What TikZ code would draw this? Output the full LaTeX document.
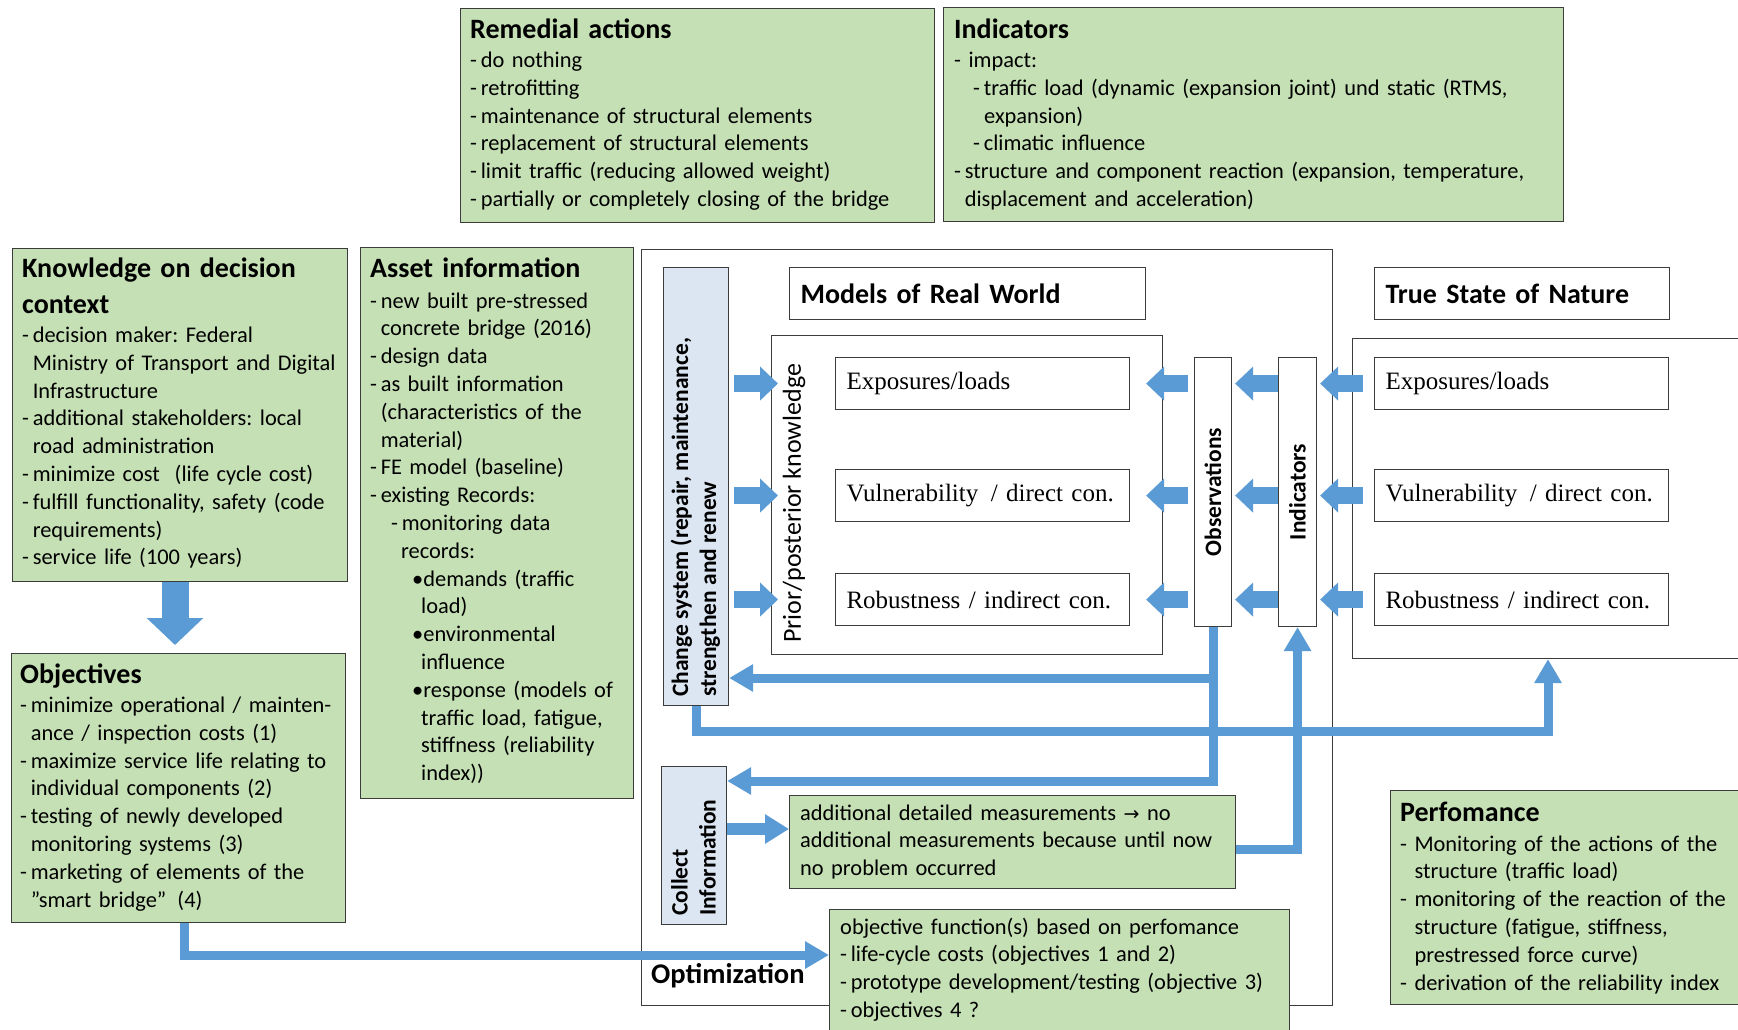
\documentclass[tikz,border=0pt]{standalone}
\usepackage{fontspec}
\setmainfont{Carlito}
\newfontfamily\tnr{Liberation Serif}
\newfontfamily\dvs{DejaVu Sans}
\usetikzlibrary{arrows.meta,calc}
\definecolor{gfill}{RGB}{197,224,180}
\definecolor{bl}{RGB}{91,155,213}
\definecolor{lbfill}{RGB}{220,230,242}
\definecolor{bd}{RGB}{60,60,60}
\newcommand\hind{\phantom{-\,}}
\tikzset{
  gbox/.style={draw=bd, fill=gfill, line width=1.2pt, inner sep=0pt, anchor=north west},
  wbox/.style={draw=bd, fill=white, line width=1.1pt, inner sep=0pt, anchor=north west},
  lbbox/.style={draw=bd, fill=lbfill, line width=1.1pt, inner sep=0pt, anchor=north west},
  tbox/.style={wbox, minimum width=294pt, minimum height=52pt, inner xsep=11pt, text width=272pt, align=left, font=\tnr\fontsize{25}{29}\selectfont},
  hbox/.style={wbox, minimum height=52pt, inner xsep=11pt, align=left, font=\fontsize{28}{32}\selectfont\bfseries},
  txt/.style={anchor=base west, inner sep=0pt, text width=700pt, align=left, font=\fontsize{22.4}{27.8}\selectfont},
  ttl/.style={anchor=base west, inner sep=0pt, text width=400pt, align=left, font=\fontsize{28}{36}\selectfont\bfseries},
  rtxt/.style={rotate=90, inner sep=0pt, align=left, font=\fontsize{23.5}{28}\selectfont\bfseries},
  conn/.style={draw=bl, line width=9pt, -{Triangle[length=24pt,width=26pt]}},
  barrow/.style={draw=bl, line width=17pt, -{Triangle[length=18pt,width=33pt]}}
}
\begin{document}
\frenchspacing
\begin{tikzpicture}[x=1pt,y=-1pt]
\useasboundingbox[fill=white] (0,0) rectangle (1738,1029);

% frames
\node[wbox, minimum width=691pt, minimum height=756pt] (frame) at (641,249) {};
\node[wbox, minimum width=420pt, minimum height=320pt] (rbox) at (1352,338) {};
\node[wbox, minimum width=391pt, minimum height=319pt] (prior) at (771,335) {};
\node[lbbox, minimum width=65pt, minimum height=438pt] (chg) at (663,267) {};
\node[lbbox, minimum width=65pt, minimum height=158pt] (col) at (661,766) {};
\node[wbox, minimum width=37pt, minimum height=269pt] (obs) at (1194,357) {};
\node[wbox, minimum width=38pt, minimum height=269pt] (indv) at (1278,357) {};

\node[hbox, minimum width=356pt, text width=334pt] (models) at (789,267) {Models of Real World};
\node[hbox, minimum width=295pt, text width=273pt] (truest) at (1374,267) {True State of Nature};

\node[tbox] (lex) at (835,357) {Exposures/loads};
\node[tbox] (lvu) at (835,469) {Vulnerability\,\ / direct con.};
\node[tbox] (lro) at (835,573) {Robustness / indirect con.};
\node[tbox] (rex) at (1374,357) {Exposures/loads};
\node[tbox] (rvu) at (1374,469) {Vulnerability\,\ / direct con.};
\node[tbox] (rro) at (1374,573) {Robustness / indirect con.};

% green boxes
\node[gbox, minimum width=474pt, minimum height=214pt] (rem) at (460,8) {};
\node[gbox, minimum width=620pt, minimum height=214pt] (indb) at (943,7) {};
\node[gbox, minimum width=335pt, minimum height=333pt] (know) at (12,248) {};
\node[gbox, minimum width=273pt, minimum height=551pt] (asset) at (360,247) {};
\node[gbox, minimum width=334pt, minimum height=269pt] (objb) at (11,653) {};
\node[gbox, minimum width=446pt, minimum height=93pt] (add) at (789,795) {};
\node[gbox, minimum width=460pt, minimum height=140pt] (objf) at (829,909) {};
\node[gbox, minimum width=400pt, minimum height=214pt] (perf) at (1390,790) {};

% line connectors
\draw[conn] (obs.south) |- (chg.east |- 0,678);
\draw[conn] (obs.south) |- (col.east |- 0,781);
\coordinate (cb) at (1548,731.5);
\draw[conn] (chg.south) |- (cb) -- (rbox.south -| cb);
\draw[conn] ([yshift=-7.5pt]add.east) -| (indv.south);
\draw[conn] (objb.south -| 184,0) |- (objf.west |- 0,955);
\draw[draw=bl, line width=12pt, -{Triangle[length=24pt,width=28pt]}] (col.east |- 0,829) -- (add.west |- 0,829);
\coordinate (dtip) at (175,645);
\draw[draw=bl, line width=27pt, -{Triangle[length=27pt,width=55pt]}] (know.south -| dtip) -- (dtip);

% block arrows
\foreach \b in {lex,lvu,lro}{
  \draw[barrow] ([xshift=5pt]chg.east |- \b.west) -- ([xshift=7pt]prior.west |- \b.west);
  \draw[barrow] ([xshift=-6pt]obs.west |- \b.east) -- ([xshift=-17pt]prior.east |- \b.east);
  \draw[barrow] (indv.west |- \b.east) -- ([xshift=3pt]obs.east |- \b.east);
}
\foreach \b in {rex,rvu,rro}{
  \draw[barrow] ([xshift=-11pt]\b.west) -- ([xshift=3pt]indv.east |- \b.west);
}

% rotated texts
\node[rtxt, anchor=west] (chgt) at (695.5,697) {Change system (repair, maintenance,\\strengthen and renew};
\node[rtxt, anchor=west] (colt) at (693.5,916) {Collect\\Information};
\node[rotate=90, inner sep=0pt, anchor=west, font=\fontsize{26}{30}\selectfont] (priort) at (794,643) {Prior/posterior knowledge};
\node[rtxt] (obst) at (obs.center) {Observations};
\node[rtxt] (indt) at (indv.center) {Indicators};

% texts of green boxes
\node[ttl] (remT) at (470,38.5) {Remedial actions};
\node[txt] (remB) at (470,67.5) {-\,do nothing\\-\,retrofitting\\-\,maintenance of structural elements\\-\,replacement of structural elements\\-\,limit traffic (reducing allowed weight)\\-\,partially or completely closing of the bridge};

\node[ttl] (indT) at (954,38.5) {Indicators};
\node[txt] (indB) at (954,67.5) {- impact:\\\hspace*{19pt}-\,traffic load (dynamic (expansion joint) und static (RTMS,\\\hspace*{30pt}expansion)\\\hspace*{19pt}-\,climatic influence\\-\,structure and component reaction (expansion, temperature,\\\hind displacement and acceleration)};

\node[ttl] (knowT) at (22,277) {Knowledge on decision\\context};
\node[txt] (knowB) at (22,342.5) {-\,decision maker: Federal\\\hind Ministry of Transport and Digital\\\hind Infrastructure\\-\,additional stakeholders: local\\\hind road administration\\-\,minimize cost\ \ (life cycle cost)\\-\,fulfill functionality, safety (code\\\hind requirements)\\-\,service life (100 years)};

\node[ttl] (assetT) at (370,277) {Asset information};
\node[txt] (assetB) at (370,308) {-\,new built pre-stressed\\\hind concrete bridge (2016)\\-\,design data\\-\,as built information\\\hind (characteristics of the\\\hind material)\\-\,FE model (baseline)\\-\,existing Records:\\\hspace*{21pt}-\,monitoring data\\\hspace*{31pt}records:\\\hspace*{42pt}\textbullet demands (traffic\\\hspace*{51pt}load)\\\hspace*{42pt}\textbullet environmental\\\hspace*{51pt}influence\\\hspace*{42pt}\textbullet response (models of\\\hspace*{51pt}traffic load, fatigue,\\\hspace*{51pt}stiffness (reliability\\\hspace*{51pt}index))};

\node[ttl] (objT) at (20,683) {Objectives};
\node[txt] (objB) at (20,712.5) {-\,minimize operational / mainten-\\\hind ance / inspection costs (1)\\-\,maximize service life relating to\\\hind individual components (2)\\-\,testing of newly developed\\\hind monitoring systems (3)\\-\,marketing of elements of the\\\hind ”smart bridge”\ \,(4)};

\node[ttl] (perfT) at (1400,821) {Perfomance};
\node[txt] (perfB) at (1400,851) {- Monitoring of the actions of the\\\phantom{- }structure (traffic load)\\- monitoring of the reaction of the\\\phantom{- }structure (fatigue, stiffness,\\\phantom{- }prestressed force curve)\\- derivation of the reliability index};

\node[txt] (addB) at (800,820) {additional detailed measurements {\dvs\fontsize{19}{20}\selectfont →} no\\additional measurements because until now\\no problem occurred};

\node[txt] (objfB) at (840,934) {objective function(s) based on perfomance\\-\,life-cycle costs (objectives 1 and 2)\\-\,prototype development/testing (objective 3)\\-\,objectives 4 ?};

\node[anchor=base west, inner sep=0pt, font=\fontsize{28.5}{32}\selectfont\bfseries] (optT) at (651,983) {Optimization};
\end{tikzpicture}
\end{document}
